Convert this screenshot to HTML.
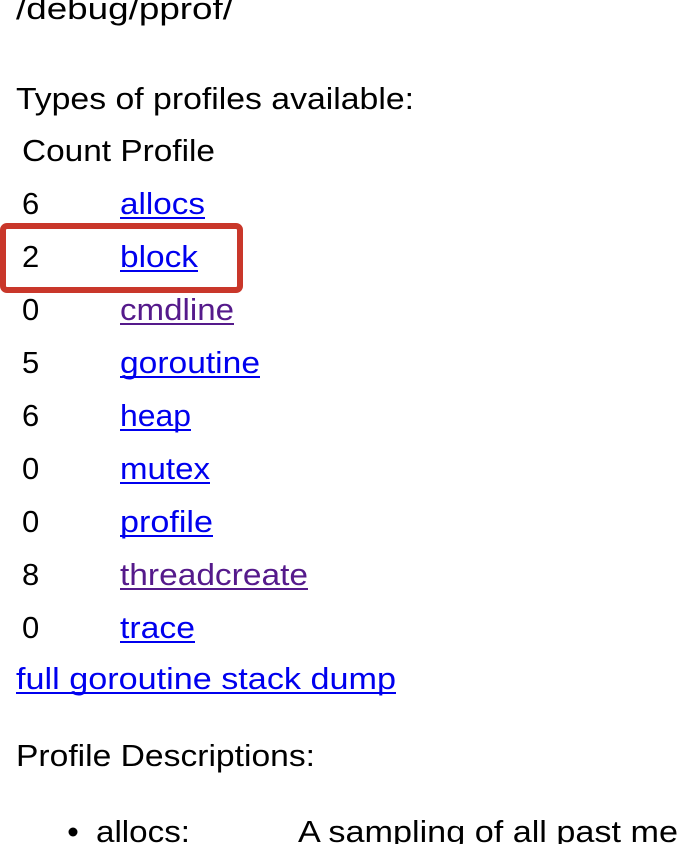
<!DOCTYPE html>
<html><head><meta charset="utf-8"><style>
html,body{margin:0;padding:0;background:#fff;width:680px;height:844px;overflow:hidden}
svg{display:block}
text{font-family:"Liberation Sans",Arial,sans-serif;font-size:31px;fill:#000}
.l{fill:#0000ee}.v{fill:#551a8b}
</style></head><body>
<svg width="680" height="844" viewBox="0 0 680 844" xmlns="http://www.w3.org/2000/svg">
<text x="16" y="19" textLength="217" lengthAdjust="spacingAndGlyphs">/debug/pprof/</text>
<text x="16" y="109" textLength="398" lengthAdjust="spacingAndGlyphs">Types of profiles available:</text>
<text x="22" y="161" textLength="193" lengthAdjust="spacingAndGlyphs">Count Profile</text>
<g>
<text x="22" y="214">6</text><text class="l" x="120" y="214" textLength="85" lengthAdjust="spacingAndGlyphs">allocs</text><rect x="120" y="217" width="85" height="2" fill="#0000ee"/>
<text x="22" y="267">2</text><text class="l" x="120" y="267" textLength="78" lengthAdjust="spacingAndGlyphs">block</text><rect x="120" y="270" width="78" height="2" fill="#0000ee"/>
<text x="22" y="320">0</text><text class="v" x="120" y="320" textLength="114" lengthAdjust="spacingAndGlyphs">cmdline</text><rect x="120" y="323" width="114" height="2" fill="#551a8b"/>
<text x="22" y="373">5</text><text class="l" x="120" y="373" textLength="140" lengthAdjust="spacingAndGlyphs">goroutine</text><rect x="120" y="376" width="140" height="2" fill="#0000ee"/>
<text x="22" y="426">6</text><text class="l" x="120" y="426" textLength="71" lengthAdjust="spacingAndGlyphs">heap</text><rect x="120" y="429" width="71" height="2" fill="#0000ee"/>
<text x="22" y="479">0</text><text class="l" x="120" y="479" textLength="90" lengthAdjust="spacingAndGlyphs">mutex</text><rect x="120" y="482" width="90" height="2" fill="#0000ee"/>
<text x="22" y="532">0</text><text class="l" x="120" y="532" textLength="93" lengthAdjust="spacingAndGlyphs">profile</text><rect x="120" y="535" width="93" height="2" fill="#0000ee"/>
<text x="22" y="585">8</text><text class="v" x="120" y="585" textLength="188" lengthAdjust="spacingAndGlyphs">threadcreate</text><rect x="120" y="588" width="188" height="2" fill="#551a8b"/>
<text x="22" y="638">0</text><text class="l" x="120" y="638" textLength="75" lengthAdjust="spacingAndGlyphs">trace</text><rect x="120" y="641" width="75" height="2" fill="#0000ee"/>
</g>
<text class="l" x="16" y="689" textLength="380" lengthAdjust="spacingAndGlyphs">full goroutine stack dump</text><rect x="16" y="692" width="380" height="2" fill="#0000ee"/>
<text x="16" y="766" textLength="299" lengthAdjust="spacingAndGlyphs">Profile Descriptions:</text>
<circle cx="73" cy="832" r="4.5" fill="#000"/>
<text x="96" y="842" textLength="94" lengthAdjust="spacingAndGlyphs">allocs:</text>
<text x="298" y="842" textLength="380" lengthAdjust="spacingAndGlyphs">A sampling of all past me</text>
<rect x="3" y="226" width="237" height="64" rx="4" fill="none" stroke="#c9372a" stroke-width="6"/>
</svg>
</body></html>
